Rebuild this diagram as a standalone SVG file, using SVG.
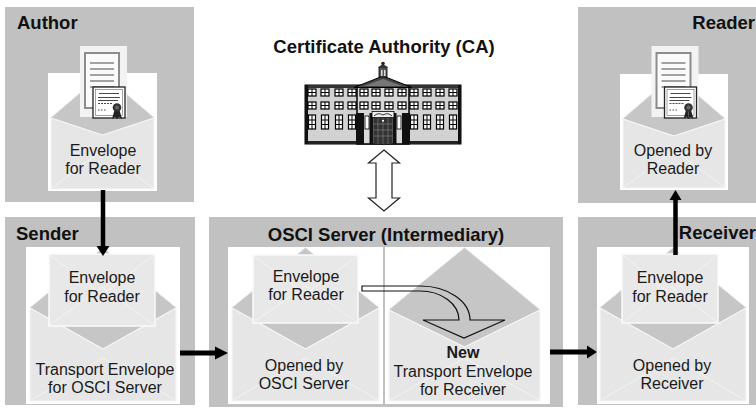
<svg xmlns="http://www.w3.org/2000/svg" width="756" height="412" viewBox="0 0 756 412">
  <style>
    .panel { fill: #c1c1c1; }
    .bg { fill: #ffffff; }
    .flap { fill: #c6c6c6; stroke: #d4d4d4; stroke-width: 1; stroke-linejoin: round; }
    .body { fill: #e6e6e6; stroke: #f6f6f6; stroke-width: 1.2; stroke-linejoin: round; }
    .fold { fill: none; stroke: #f3f3f3; stroke-width: 1; }
    .inner { fill: #e8e8e8; stroke: #fafafa; stroke-width: 1.5; }
    .lbl { font-family: "Liberation Sans", Arial, sans-serif; font-weight: bold; font-size: 18.5px; fill: #111; }
    .txt { font-family: "Liberation Sans", Arial, sans-serif; font-size: 16px; fill: #1a1a1a; text-anchor: middle; }
    .b { font-weight: bold; }
    .wire { stroke: #000; fill: none; }
    .head { fill: #000; }
    .hollow { fill: none; stroke: #111; stroke-width: 1.2; stroke-linejoin: miter; }
    .win { fill: #fff; stroke: #000; stroke-width: 1.2; }
    .winx { stroke: #000; stroke-width: 1; }
  </style>
  <defs>
    <!-- document with certificate, drawn at its own origin -->
    <g id="doc">
      <rect x="0" y="0" width="47" height="71" fill="#f3f3f3"/>
      <rect x="5" y="7" width="34" height="55" fill="#fafafa" stroke="#8c8c8c" stroke-width="2"/>
      <g stroke="#8c8c8c" stroke-width="1.6">
        <line x1="10" y1="17" x2="34" y2="17"/>
        <line x1="10" y1="23" x2="34" y2="23"/>
        <line x1="10" y1="29" x2="34" y2="29"/>
        <line x1="10" y1="35" x2="34" y2="35"/>
        <line x1="10" y1="41" x2="34" y2="41"/>
      </g>
      <rect x="13" y="41" width="32" height="31" fill="#fff" stroke="#222" stroke-width="1.3"/>
      <rect x="15.5" y="43.5" width="27" height="26" fill="none" stroke="#666" stroke-width="0.6"/>
      <g stroke="#333" stroke-width="0.9">
        <line x1="19" y1="47.5" x2="39" y2="47.5"/>
        <line x1="18" y1="51.5" x2="40" y2="51.5"/>
        <line x1="18" y1="54.5" x2="38" y2="54.5"/>
        <line x1="18" y1="57.5" x2="33" y2="57.5" stroke-dasharray="2 1"/>
        <line x1="18" y1="64" x2="27" y2="64" stroke-dasharray="1.5 1.5"/>
      </g>
      <polygon points="34.5,64 32,73 35,71 37,73 37,65" fill="#222"/>
      <polygon points="39.5,64 42,73 39,71 37,73 37,65" fill="#222"/>
      <circle cx="37" cy="61.5" r="4.3" fill="#333"/>
      <circle cx="37" cy="61.5" r="2" fill="#666"/>
    </g>
    <g id="w">
      <rect class="win" x="0" y="0" width="8" height="7"/>
      <line class="winx" x1="4" y1="0" x2="4" y2="7"/>
      <line class="winx" x1="0" y1="3.5" x2="8" y2="3.5"/>
    </g>
    <g id="wt">
      <rect class="win" x="0.5" y="0" width="7" height="14"/>
      <line class="winx" x1="4" y1="0" x2="4" y2="14"/>
      <line class="winx" x1="0.5" y1="5" x2="7.5" y2="5"/>
      <line class="winx" x1="0.5" y1="9.5" x2="7.5" y2="9.5"/>
    </g>
  </defs>

  <rect width="756" height="412" fill="#fff"/>

  <!-- Author -->
  <g id="author">
    <rect class="panel" x="5" y="7" width="189" height="195"/>
    <text class="lbl" x="17" y="29">Author</text>
    <rect class="bg" x="48" y="73" width="109" height="118"/>
    <path class="flap" d="M51,118 L102.5,74 L154,118 L102.5,135 Z"/>
    <path class="body" d="M51,118 L102.5,135 L154,118 L154,189 L51,189 Z"/>
    <path class="fold" d="M52,188 L102.5,150 L153,188"/>
    <use href="#doc" transform="translate(80,46)"/>
    <text class="txt" x="103" y="155.5">Envelope</text>
    <text class="txt" x="103" y="173.5">for Reader</text>
  </g>

  <!-- Reader -->
  <g id="reader">
    <rect class="panel" x="578" y="7" width="178" height="196"/>
    <text class="lbl" x="755" y="29" text-anchor="end">Reader</text>
    <rect class="bg" x="620" y="74" width="108" height="116"/>
    <path class="flap" d="M623,119 L674,75 L725,119 L674,136 Z"/>
    <path class="body" d="M623,119 L674,136 L725,119 L725,188 L623,188 Z"/>
    <path class="fold" d="M624,187 L674,150 L724,187"/>
    <use href="#doc" transform="translate(651.5,46)"/>
    <text class="txt" x="673" y="155.5">Opened by</text>
    <text class="txt" x="673" y="173.5">Reader</text>
  </g>

  <!-- Certificate Authority -->
  <g id="ca">
    <text class="lbl" x="384" y="53" text-anchor="middle">Certificate Authority (CA)</text>
    <rect x="305" y="85" width="156" height="59" fill="#d2d2d2" stroke="#000" stroke-width="1"/>
    <rect x="305" y="85" width="156" height="3" fill="#333"/>
    <rect x="305" y="141" width="156" height="3" fill="#222"/>
    <rect x="305" y="85" width="3" height="59" fill="#111"/>
    <rect x="458" y="85" width="3" height="59" fill="#111"/>
    <rect x="357" y="86" width="52" height="58" fill="#d8d8d8" stroke="#000" stroke-width="1.5"/>
    <polygon points="354,87.5 383,76 412,87.5" fill="#444" stroke="#000" stroke-width="1"/>
    <polygon points="364,86 383,79 402,86" fill="#777"/>
    <rect x="379" y="67" width="8" height="10" fill="#555" stroke="#000" stroke-width="0.8"/>
    <path d="M378,68 Q383,61 388,68 Z" fill="#333"/>
    <circle cx="383" cy="63.5" r="1.8" fill="#222"/>
    <rect x="381" y="70" width="1.5" height="6" fill="#ddd"/>
    <rect x="384" y="70" width="1.5" height="6" fill="#ddd"/>
    <!-- wing and pavilion windows -->
    <use href="#w" x="308" y="89"/><use href="#w" x="321" y="89"/><use href="#w" x="335" y="89"/><use href="#w" x="348" y="89"/>
    <use href="#w" x="308" y="102"/><use href="#w" x="321" y="102"/><use href="#w" x="335" y="102"/><use href="#w" x="348" y="102"/>
    <use href="#wt" x="308" y="115"/><use href="#wt" x="321" y="115"/><use href="#wt" x="335" y="115"/><use href="#wt" x="348" y="115"/>
    <use href="#w" x="360" y="89"/><use href="#w" x="372" y="89"/><use href="#w" x="385" y="89"/><use href="#w" x="398" y="89"/>
    <use href="#w" x="360" y="102"/><use href="#w" x="372" y="102"/><use href="#w" x="385" y="102"/><use href="#w" x="398" y="102"/>
    <use href="#w" x="410" y="89"/><use href="#w" x="423" y="89"/><use href="#w" x="436" y="89"/><use href="#w" x="449" y="89"/>
    <use href="#w" x="410" y="102"/><use href="#w" x="423" y="102"/><use href="#w" x="436" y="102"/><use href="#w" x="449" y="102"/>
    <use href="#wt" x="410" y="115"/><use href="#wt" x="423" y="115"/><use href="#wt" x="436" y="115"/><use href="#wt" x="449" y="115"/>
    <!-- entrance -->
    <rect x="356" y="113" width="8" height="31" fill="#111"/>
    <rect x="402" y="113" width="8" height="31" fill="#111"/>
    <rect x="365" y="116" width="4" height="13" fill="#fff" stroke="#000" stroke-width="0.8"/>
    <rect x="397" y="116" width="4" height="13" fill="#fff" stroke="#000" stroke-width="0.8"/>
    <rect x="369.5" y="113" width="4" height="31" fill="#111"/>
    <rect x="392.5" y="113" width="4" height="31" fill="#111"/>
    <rect x="372" y="111.5" width="22" height="6" fill="#eee" stroke="#000" stroke-width="0.8"/>
    <path d="M374,116 Q378,112 383,115 Q388,112 392,116" fill="none" stroke="#000" stroke-width="0.8"/>
    <rect x="373.5" y="118" width="19" height="26" fill="#333"/>
    <g stroke="#888" stroke-width="0.6">
      <line x1="383" y1="118" x2="383" y2="144"/>
      <line x1="378" y1="118" x2="378" y2="144"/>
      <line x1="388" y1="118" x2="388" y2="144"/>
      <line x1="373.5" y1="124" x2="392.5" y2="124"/>
      <line x1="373.5" y1="130" x2="392.5" y2="130"/>
      <line x1="373.5" y1="136" x2="392.5" y2="136"/>
    </g>
    <rect x="382" y="120" width="2" height="1.5" fill="#fff"/>
  </g>

  <!-- Sender -->
  <g id="sender">
    <rect class="panel" x="5" y="217" width="190" height="188"/>
    <text class="lbl" x="16" y="240">Sender</text>
    <rect class="bg" x="26" y="247" width="154" height="157"/>
    <path class="flap" d="M30,308 L103,248 L176,308 L103,349 Z"/>
    <path class="body" d="M30,308 L103,349 L176,308 L176,401 L30,401 Z"/>
    <path class="fold" d="M31,400 L103,358 L175,400"/>
    <rect class="inner" x="49" y="254" width="106" height="72"/>
    <path class="fold" d="M50,255 L102,295 L154,255 M50,325 L102,287 L154,325"/>
    <text class="txt" x="102" y="283">Envelope</text>
    <text class="txt" x="102" y="301.5">for Reader</text>
    <text class="txt" x="105" y="375">Transport Envelope</text>
    <text class="txt" x="105" y="393">for OSCI Server</text>
  </g>

  <!-- OSCI Server -->
  <g id="osci">
    <rect class="panel" x="209" y="217" width="354" height="190"/>
    <text class="lbl" x="386" y="241" text-anchor="middle">OSCI Server (Intermediary)</text>
    <rect class="bg" x="228" y="247" width="155" height="157"/>
    <path class="flap" d="M232,308 L305.5,248 L379,308 L305.5,349 Z"/>
    <path class="body" d="M232,308 L305.5,349 L379,308 L379,401 L232,401 Z"/>
    <path class="fold" d="M233,400 L305.5,358 L378,400"/>
    <rect class="inner" x="253" y="255" width="105" height="68"/>
    <path class="fold" d="M254,256 L305.5,294 L357,256 M254,322 L305.5,286 L357,322"/>
    <text class="txt" x="306" y="281.5">Envelope</text>
    <text class="txt" x="306" y="300">for Reader</text>
    <text class="txt" x="304" y="370.5">Opened by</text>
    <text class="txt" x="304" y="389">OSCI Server</text>
    <rect class="bg" x="385" y="247" width="165" height="157"/>
    <path class="flap" d="M389,310 L464.5,248 L540,310 L464.5,347 Z"/>
    <path class="body" d="M389,310 L464.5,347 L540,310 L540,401 L389,401 Z"/>
    <path class="fold" d="M390,400 L464.5,358 L539,400"/>
    <text class="txt b" x="463" y="358">New</text>
    <text class="txt" x="463" y="376.5">Transport Envelope</text>
    <text class="txt" x="463" y="395">for Receiver</text>
  </g>

  <!-- Receiver -->
  <g id="receiver">
    <rect class="panel" x="578" y="217" width="178" height="188"/>
    <rect class="bg" x="597" y="247" width="152" height="157"/>
    <path class="flap" d="M600,308 L673,248 L746,308 L673,349 Z"/>
    <path class="body" d="M600,308 L673,349 L746,308 L746,401 L600,401 Z"/>
    <path class="fold" d="M601,400 L673,358 L745,400"/>
    <rect class="inner" x="622" y="254" width="96" height="69"/>
    <path class="fold" d="M623,255 L670,294 L717,255 M623,322 L670,286 L717,322"/>
    <text class="txt" x="670" y="283">Envelope</text>
    <text class="txt" x="670" y="301.5">for Reader</text>
    <text class="txt" x="672" y="370.5">Opened by</text>
    <text class="txt" x="672" y="389">Receiver</text>
    <text class="lbl" x="756" y="239" text-anchor="end">Receiver</text>
  </g>

  <!-- connectors -->
  <g id="connectors">
    <line class="wire" x1="103" y1="190" x2="103" y2="247" stroke-width="4.5"/>
    <polygon class="head" points="96.5,246 109.5,246 103,256"/>
    <line class="wire" x1="180" y1="353" x2="216" y2="353" stroke-width="5"/>
    <polygon class="head" points="215,346.5 215,359.5 228,353"/>
    <line class="wire" x1="550" y1="352" x2="588" y2="352" stroke-width="5"/>
    <polygon class="head" points="587,345.5 587,358.5 597,352"/>
    <line class="wire" x1="675.5" y1="255" x2="675.5" y2="199" stroke-width="4.5"/>
    <polygon class="head" points="669.5,200 681.5,200 675.5,190"/>
    <polygon points="384,150 399.5,163 392,163 392,198 399.5,198 384,211 368.5,198 376,198 376,163 368.5,163" fill="#fff" stroke="#222" stroke-width="1.2"/>
    <path class="hollow" d="M362,286 L420,286 A50,34 0 0 1 470,320 L505,320 L464,338 L423,320 L459,320 A39,29 0 0 0 420,291 L362,291 Z"/>
  </g>
</svg>
